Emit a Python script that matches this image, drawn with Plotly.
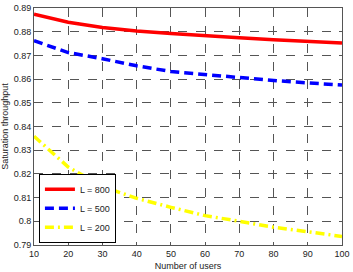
import plotly.graph_objects as go

users = [10, 20, 30, 40, 50, 60, 70, 80, 90, 100]
l800 = [0.8874, 0.8840, 0.8818, 0.8803, 0.8792, 0.8782, 0.8774, 0.8766, 0.8759, 0.8752]
l500 = [0.8762, 0.8712, 0.8686, 0.8656, 0.8632, 0.8619, 0.8605, 0.8594, 0.8584, 0.8575]
l200 = [0.8359, 0.8229, 0.8147, 0.8097, 0.8059, 0.8024, 0.8000, 0.7975, 0.7956, 0.7936]
names = ["L = 800", "L = 500", "L = 200"]
yticks = [0.79, 0.8, 0.81, 0.82, 0.83, 0.84, 0.85, 0.86, 0.87, 0.88, 0.89]
xticks = [10, 20, 30, 40, 50, 60, 70, 80, 90, 100]

fig = go.Figure()
fig.add_trace(go.Scatter(x=users, y=l800, mode="lines", name=names[0],
                         line=dict(color="#ff0000", width=3.5, dash="solid")))
fig.add_trace(go.Scatter(x=users, y=l500, mode="lines", name=names[1],
                         line=dict(color="#0000ff", width=3.5, dash="9px,5px")))
fig.add_trace(go.Scatter(x=users, y=l200, mode="lines", name=names[2],
                         line=dict(color="#ffff00", width=3.5, dash="9px,4px,2px,4px")))

font = dict(family="Liberation Sans, Arial", size=9, color="#222")
axis_common = dict(showline=True, linecolor="#555555", linewidth=1, mirror="ticks",
                   ticks="inside", ticklen=3, tickcolor="#555555",
                   showgrid=True, gridcolor="#555555", griddash="dash", gridwidth=0.7,
                   zeroline=False, tickfont=font, ticklabeloverflow="allow")
fig.update_xaxes(range=[10, 100], tickvals=xticks, **axis_common,
                 title=dict(text="Number of users", font=font, standoff=4))
fig.update_yaxes(range=[0.79, 0.89], tickvals=yticks, **axis_common,
                 title=dict(text="Saturation throughput", font=font, standoff=4))
fig.update_layout(width=353, height=272, margin=dict(l=34, r=7, t=3, b=25),
                  plot_bgcolor="white", paper_bgcolor="white",
                  legend=dict(x=0.016, y=0.01, xanchor="left", yanchor="bottom",
                              bordercolor="black", borderwidth=1, bgcolor="white",
                              font=dict(family="Liberation Sans, Arial", size=9, color="#222"),
                              itemwidth=30, tracegroupgap=0))
fig.write_html("out.html")
